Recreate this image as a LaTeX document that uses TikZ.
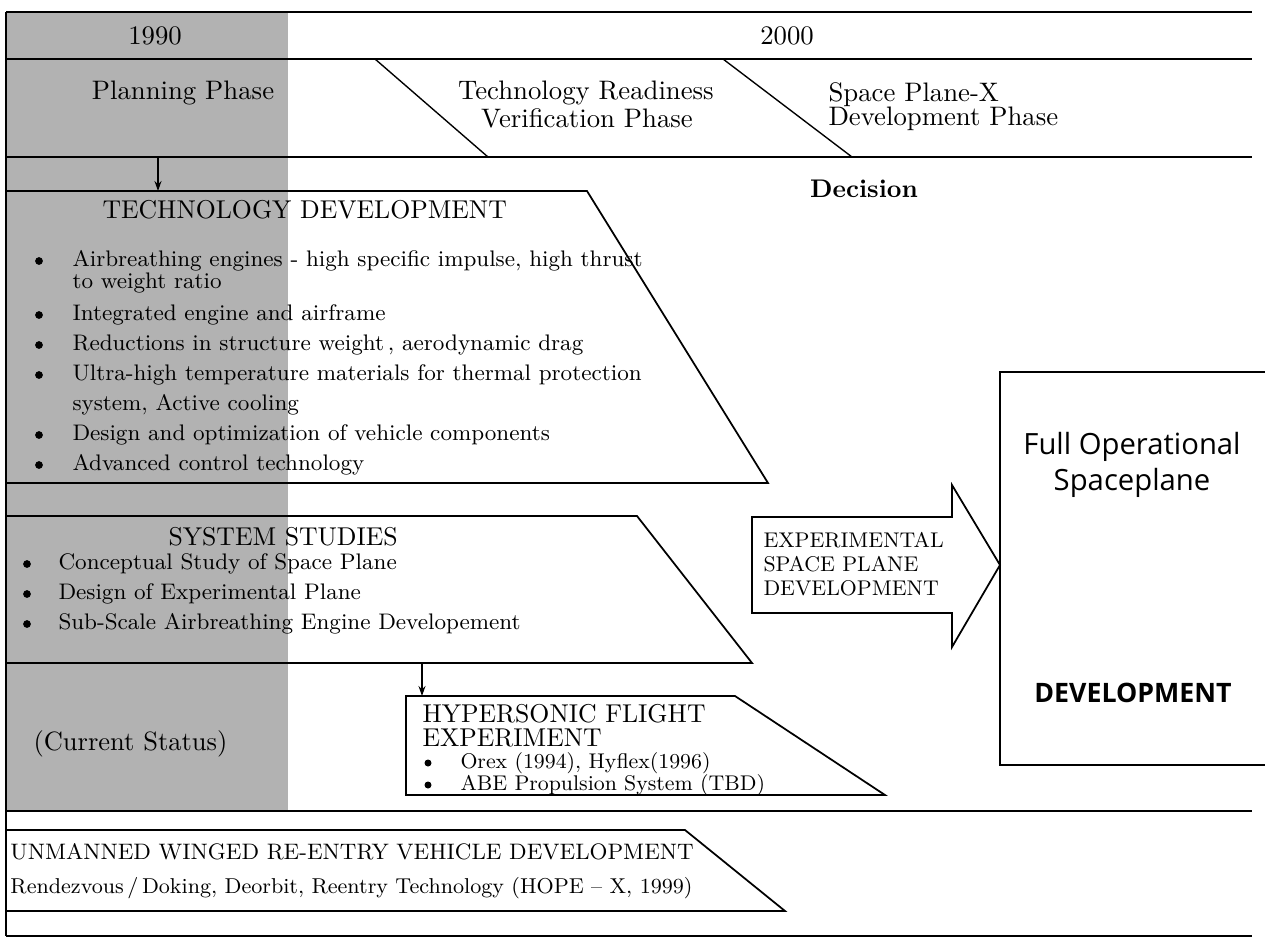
\documentclass[tikz,border=0pt]{standalone}
\usepackage{fontspec}
\newfontfamily\sansop{Open Sans}
\usetikzlibrary{arrows.meta}
\begin{document}
\begin{tikzpicture}[x=0.4pt,y=-0.4pt,
  rule/.style={line width=1pt},
  outline/.style={line width=0.7pt},
  thinline/.style={line width=0.55pt},
  txt/.style={inner sep=0,anchor=west},
  ctr/.style={inner sep=0},
  phase/.style={font=\fontsize{10.7}{12}\selectfont},
  head/.style={font=\fontsize{10.3}{12}\selectfont},
  item/.style={font=\fontsize{9}{11}\selectfont},
  small/.style={font=\fontsize{8.5}{10}\selectfont},
  dot/.style={circle,fill,inner sep=0,minimum size=3.1pt},
  flow/.style={thinline,-{Stealth[length=4pt,width=2.8pt]}}
]
\useasboundingbox (0,0) rectangle (1265,941);
\fill[white] (0,0) rectangle (1265,941);

% shaded column of the planning phase
\fill[black!30] (6,12) rectangle (288,811);

% frame and row rules
\draw[rule] (6,12) -- (1252,12);
\draw[rule] (6,59) -- (1252,59);
\draw[rule] (6,157) -- (1252,157);
\draw[rule] (6,811) -- (1252,811);
\draw[rule] (6,936) -- (1252,936);
\draw[rule] (6,12) -- (6,936);

% phase dividers
\draw[thinline] (375,59) -- (488,157);
\draw[thinline] (723,59) -- (852,157);

% years and phases
\node[ctr,phase] (y1990) at (155,36) {1990};
\node[ctr,phase] (y2000) at (787,36) {2000};
\node[ctr,phase] (plan) at (183,93) {Planning Phase};
\node[ctr,phase] (trv1) at (586,93) {Technology Readiness};
\node[ctr,phase] (trv2) at (587,118) {Verification Phase};
\node[txt,phase] (spx1) at (828,95) {Space Plane-X};
\node[txt,phase] (spx2) at (828,119) {Development Phase};
\node[ctr,phase,font=\fontsize{10.2}{12}\selectfont\bfseries] (dec) at (864,189) {Decision};

% technology development
\draw[outline] (6,191) -- (587,191) -- (768,483) -- (6,483);
\node[txt,head] (tdh) at (102,210) {TECHNOLOGY DEVELOPMENT};
\node[dot] (tb1) at (39,261) {};
\node[txt,item] (td1) at (72,261) {Airbreathing engines - high specific impulse, high thrust};
\node[txt,item] (td1b) at (72,283) {to weight ratio};
\node[dot] (tb2) at (39,315) {};
\node[txt,item] (td2) at (72,315) {Integrated engine and airframe};
\node[dot] (tb3) at (39,345) {};
\node[txt,item] (td3) at (72,345) {Reductions in structure weight\,,\ aerodynamic drag};
\node[dot] (tb4) at (39,375) {};
\node[txt,item] (td4) at (72,375) {Ultra-high temperature materials for thermal protection};
\node[txt,item] (td4b) at (72,405) {system, Active cooling};
\node[dot] (tb5) at (39,435) {};
\node[txt,item] (td5) at (72,435) {Design and optimization of vehicle components};
\node[dot] (tb6) at (39,465) {};
\node[txt,item] (td6) at (72,465) {Advanced control technology};

% system studies
\draw[outline] (6,516) -- (637,516) -- (752,663) -- (6,663);
\node[txt,head] (ssh) at (168,537) {SYSTEM STUDIES};
\node[dot] (sb1) at (27,564) {};
\node[txt,item] (ss1) at (58,564) {Conceptual Study of Space Plane};
\node[dot] (sb2) at (27,594) {};
\node[txt,item] (ss2) at (58,594) {Design of Experimental Plane};
\node[dot] (sb3) at (27,624) {};
\node[txt,item] (ss3) at (58,624) {Sub-Scale Airbreathing Engine Developement};

% current status
\node[txt,font=\fontsize{10.6}{12}\selectfont] (cur) at (33,744) {(Current Status)};

% hypersonic flight experiment
\draw[outline] (406,795) -- (406,696) -- (735,696) -- (885,795) -- cycle;
\node[txt,head] (hf1) at (422,714) {HYPERSONIC FLIGHT};
\node[txt,head] (hf2) at (422,738) {EXPERIMENT};
\node[dot,minimum size=2.8pt] (hb1) at (428,763) {};
\node[txt,small] (hx1) at (460,763) {Orex (1994), Hyflex(1996)};
\node[dot,minimum size=2.8pt] (hb2) at (428,785) {};
\node[txt,small] (hx2) at (460,785) {ABE Propulsion System (TBD)};

% experimental space plane arrow
\draw[outline] (752,517) -- (952,517) -- (952,485) -- (1000,565) -- (952,647)
  -- (952,613) -- (752,613) -- cycle;
\node[txt,small] (ex1) at (763,540) {EXPERIMENTAL};
\node[txt,small] (ex2) at (763,564) {SPACE PLANE};
\node[txt,small] (ex3) at (763,588) {DEVELOPMENT};

% full operational spaceplane
\draw[outline] (1265,372) -- (1000,372) -- (1000,765) -- (1265,765);
\node[ctr,font=\sansop\fontsize{11.7}{13}\selectfont] (fo1) at (1132,447) {Full Operational};
\node[ctr,font=\sansop\fontsize{11.7}{13}\selectfont] (fo2) at (1132,483) {Spaceplane};
\node[ctr,font=\sansop\fontsize{10.7}{13}\selectfont\bfseries] (fo3) at (1133,693) {DEVELOPMENT};

% unmanned winged re-entry vehicle
\draw[outline] (6,830) -- (685,830) -- (785,911) -- (6,911);
\node[txt,font=\fontsize{8.95}{11}\selectfont] (uw1) at (10,852) {UNMANNED WINGED RE-ENTRY VEHICLE DEVELOPMENT};
\node[txt,font=\fontsize{8.6}{10}\selectfont] (uw2) at (10,888) {Rendezvous\,/\,Doking, Deorbit, Reentry Technology (HOPE – X, 1999)};

% flow arrows
\coordinate (p1) at (158,157);
\coordinate (p2) at (158,191);
\draw[flow] (p1) -- (p2);
\coordinate (q1) at (422,663);
\coordinate (q2) at (422,696);
\draw[flow] (q1) -- (q2);
\end{tikzpicture}
\end{document}
